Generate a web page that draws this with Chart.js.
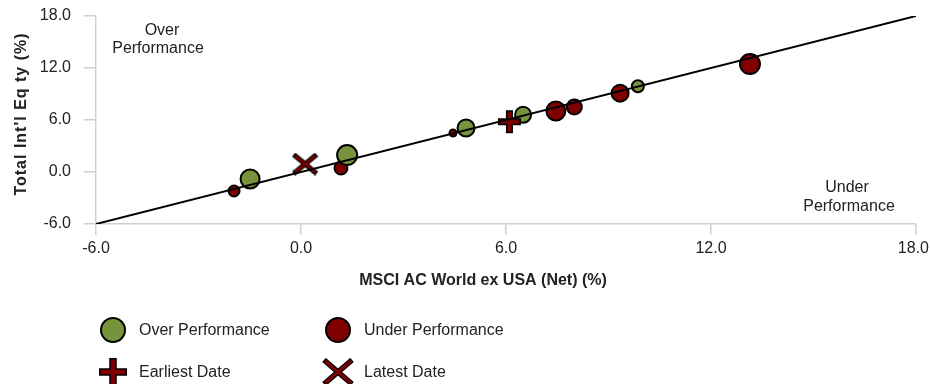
<!DOCTYPE html>
<html>
<head>
<meta charset="utf-8">
<script src="https://cdn.jsdelivr.net/npm/chart.js@4/dist/chart.umd.min.js"></script>
<style>
html,body{margin:0;padding:0;background:#fff;}
#wrap{width:930px;height:384px;position:relative;}
</style>
</head>
<body>
<div id="wrap"><canvas id="c" width="930" height="384"></canvas></div>
<script>
// ---- data ----
const overX = [-1.49, 1.35, 4.83, 6.5, 9.86];
const overY = [-0.81, 1.96, 5.08, 6.6, 9.9];
const overR = [9, 9.5, 8, 7.5, 5.5];
const underX = [-1.96, 1.17, 4.45, 7.46, 8.0, 9.34, 13.14];
const underY = [-2.19, 0.46, 4.5, 7.04, 7.5, 9.1, 12.46];
const underR = [5, 6, 3, 9, 7, 8, 9.5];
const earliest = {x: 6.1, y: 5.8};
const latest = {x: 0.12, y: 0.92};
const diagX = [-6, 18];
const diagY = [-6, 18];
const axisMin = -6, axisMax = 18, axisStep = 6;
const tickLabels = ['-6.0', '0.0', '6.0', '12.0', '18.0'];
const seriesNames = ['Over Performance', 'Under Performance', 'Earliest Date', 'Latest Date'];
const xTitle = 'MSCI AC World ex USA (Net) (%)';
const yTitle = "Total Int'l Eq ty (%)";

const GREEN = '#77933C', RED = '#800000';
const FONT = "'Liberation Sans', Arial, sans-serif";

function plusImg(size, lw) {
  const c = document.createElement('canvas');
  c.width = size + 4; c.height = size + 4;
  const g = c.getContext('2d');
  const m = c.width / 2, h = size / 2;
  g.lineCap = 'butt';
  g.strokeStyle = '#000'; g.lineWidth = lw + 3;
  g.beginPath(); g.moveTo(m - h, m); g.lineTo(m + h, m); g.moveTo(m, m - h); g.lineTo(m, m + h); g.stroke();
  g.strokeStyle = RED; g.lineWidth = lw;
  g.beginPath(); g.moveTo(m - h + 1.5, m); g.lineTo(m + h - 1.5, m); g.moveTo(m, m - h + 1.5); g.lineTo(m, m + h - 1.5); g.stroke();
  return c;
}
function crossImg(w, hgt, lw) {
  const c = document.createElement('canvas');
  c.width = w + 4; c.height = hgt + 4;
  const g = c.getContext('2d');
  const mx = c.width / 2, my = c.height / 2, hw = w / 2, hh = hgt / 2;
  g.lineCap = 'butt';
  g.strokeStyle = '#000'; g.lineWidth = lw + 2.5;
  g.beginPath(); g.moveTo(mx - hw, my - hh); g.lineTo(mx + hw, my + hh); g.moveTo(mx + hw, my - hh); g.lineTo(mx - hw, my + hh); g.stroke();
  g.strokeStyle = RED; g.lineWidth = lw;
  const k = 1.2;
  g.beginPath(); g.moveTo(mx - hw + k, my - hh + k); g.lineTo(mx + hw - k, my + hh - k); g.moveTo(mx + hw - k, my - hh + k); g.lineTo(mx - hw + k, my + hh - k); g.stroke();
  return c;
}
const plusPt = plusImg(23, 4);
const crossPt = crossImg(23, 19, 2.5);
const plusLeg = plusImg(28, 4.5);
const crossLeg = crossImg(28, 24, 3);

const overData = overX.map((x, i) => ({x, y: overY[i], r: overR[i] + 0.5}));
const underData = underX.map((x, i) => ({x, y: underY[i], r: underR[i] + 0.5}));
const diagData = diagX.map((x, i) => ({x, y: diagY[i]}));

const textPlugin = {
  id: 'extras',
  afterDraw(chart) {
    const ctx = chart.ctx;
    ctx.save();
    ctx.fillStyle = '#222';
    ctx.font = '16px ' + FONT;
    ctx.textAlign = 'center';
    ctx.textBaseline = 'middle';
    // x tick labels (kept inside the canvas)
    const xs = chart.scales.x;
    tickLabels.forEach((t, i) => {
      const v = axisMin + i * axisStep;
      let px = xs.getPixelForValue(v);
      const w = ctx.measureText(t).width;
      if (px + w / 2 > chart.width - 1) px = chart.width - 1 - w / 2;
      ctx.fillText(t, px, 249);
    });
    ctx.fillText('Over', 162, 31);
    ctx.fillText('Performance', 158, 49);
    ctx.fillText('Under', 847, 188);
    ctx.fillText('Performance', 849, 207);
    // axis titles
    ctx.font = 'bold 16px ' + FONT;
    ctx.fillText(xTitle, 483, 281);
    ctx.save();
    ctx.translate(22, 114);
    ctx.rotate(-Math.PI / 2);
    try { ctx.letterSpacing = '1px'; } catch (e) {}
    ctx.fillText(yTitle, 0, 0);
    ctx.restore();
    // legend
    ctx.textAlign = 'left';
    ctx.font = '16px ' + FONT;
    const items = [
      {x: 113, y: 330, t: seriesNames[0], kind: 'c', col: GREEN},
      {x: 338, y: 330, t: seriesNames[1], kind: 'c', col: RED},
      {x: 113, y: 372, t: seriesNames[2], kind: 'p'},
      {x: 338, y: 372, t: seriesNames[3], kind: 'x'}
    ];
    items.forEach(it => {
      if (it.kind === 'c') {
        ctx.beginPath(); ctx.arc(it.x, it.y, 12, 0, Math.PI * 2);
        ctx.fillStyle = it.col; ctx.fill();
        ctx.lineWidth = 2; ctx.strokeStyle = '#000'; ctx.stroke();
      } else if (it.kind === 'p') {
        ctx.drawImage(plusLeg, it.x - plusLeg.width / 2, it.y - plusLeg.height / 2);
      } else {
        ctx.drawImage(crossLeg, it.x - crossLeg.width / 2, it.y - crossLeg.height / 2);
      }
      ctx.fillStyle = '#222';
      ctx.fillText(it.t, it.x + 26, it.y + 1);
    });
    ctx.restore();
  }
};

function zeroPad(s) { s.paddingLeft = 0; s.paddingRight = 0; s.paddingTop = 0; s.paddingBottom = 0; }

new Chart(document.getElementById('c'), {
  type: 'bubble',
  data: {
    datasets: [
      {label: 'diag', type: 'line', data: diagData, borderColor: '#000', borderWidth: 2, pointRadius: 0, fill: false, order: 0},
      {label: seriesNames[3], type: 'scatter', data: [latest], pointStyle: crossPt, order: 1},
      {label: seriesNames[2], type: 'scatter', data: [earliest], pointStyle: plusPt, order: 2},
      {label: seriesNames[0], data: overData, backgroundColor: GREEN, borderColor: '#000', borderWidth: 2, order: 3},
      {label: seriesNames[1], data: underData, backgroundColor: RED, borderColor: '#000', borderWidth: 2, order: 4}
    ]
  },
  options: {
    responsive: false,
    animation: false,
    events: [],
    layout: {padding: {left: 0, right: 14, top: 16, bottom: 94}},
    plugins: {legend: {display: false}, tooltip: {enabled: false}},
    scales: {
      x: {
        type: 'linear', min: axisMin, max: axisMax,
        border: {color: '#d0d0d0', width: 1.5},
        grid: {drawOnChartArea: false, drawTicks: true, tickLength: 11, color: '#d0d0d0', lineWidth: 1.5},
        ticks: {stepSize: axisStep, display: false, autoSkip: false},
        afterFit: s => { s.height = 66; zeroPad(s); }
      },
      y: {
        type: 'linear', min: axisMin, max: axisMax,
        border: {color: '#d0d0d0', width: 1.5},
        grid: {drawOnChartArea: false, drawTicks: true, tickLength: 12, color: '#d0d0d0', lineWidth: 1.5},
        ticks: {stepSize: axisStep, padding: 13, color: '#222', font: {family: FONT, size: 16}, callback: (v, i) => tickLabels[i], autoSkip: false},
        afterFit: s => { s.width = 96; zeroPad(s); }
      }
    }
  },
  plugins: [textPlugin]
});
</script>
</body>
</html>
